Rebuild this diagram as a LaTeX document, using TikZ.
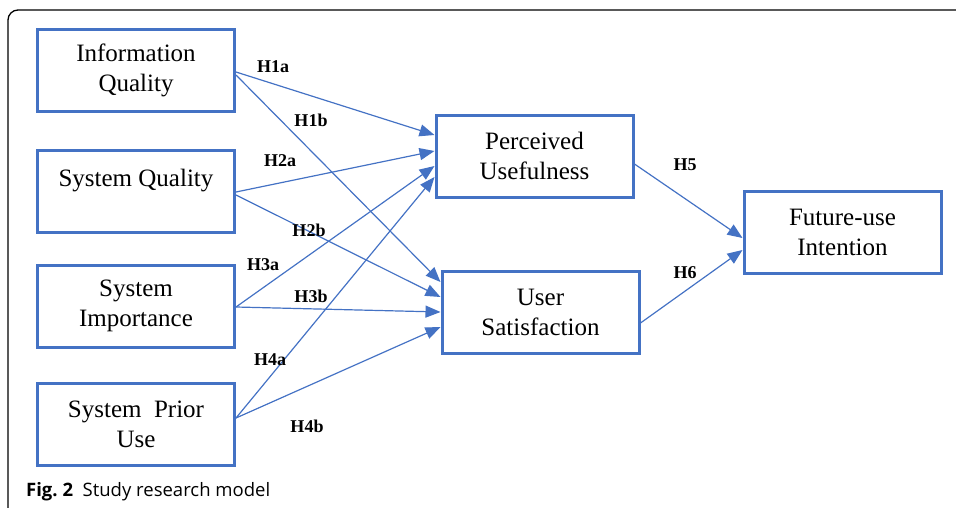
\documentclass[tikz,border=0pt]{standalone}
\usepackage{fontspec}
\setmainfont{Liberation Serif}
\newfontfamily\capfont{Open Sans}
\usetikzlibrary{arrows.meta,%
                positioning}
\definecolor{boxblue}{HTML}{4472C4}

\begin{document}
\begin{tikzpicture}[x = 1pt, y = -1pt]
  \tikzstyle{every node} = [node distance = 120pt,
			    on grid,
			    inner sep = 0pt]
  \tikzstyle{VertexStyle} = [draw = boxblue,
			    line width = 3pt,
			    minimum width = 197pt,
			    minimum height = 82pt,
			    align = center,
			    font = \fontsize{25}{30}\selectfont]
\tikzset{EdgeStyle/.style = {draw = boxblue, line width = 1.2pt,
                             -{Triangle[length = 15pt, width = 12pt]}}}
\tikzstyle{LabelStyle} = [font = \fontsize{18}{20}\selectfont\bfseries]
\useasboundingbox (0,0) rectangle (956,507);
\draw[line width = 1.3pt, rounded corners = 10pt] (8,530) -- (8,10) -- (980,10);

\node[VertexStyle] (IQ) at (136,70) {Information\\Quality};
\node[VertexStyle, below = 121pt of IQ, text depth = 27pt] (SQ) {System Quality};
\node[VertexStyle, below = 115pt of SQ] (SI) {System\\Importance};
\node[VertexStyle, below = 118pt of SI] (SP) {System~ Prior\\Use};
\node[VertexStyle, below right = 86pt and 398.5pt of IQ] (PU) {Perceived\\Usefulness};
\node[VertexStyle, below right = 156pt and 6pt of PU] (US) {User\\Satisfaction};
\node[VertexStyle, below right = 76.5pt and 308pt of PU] (FI) {Future-use\\Intention};

% paths into Perceived Usefulness
\draw[EdgeStyle] ([yshift = -2pt]IQ.east) -- ([yshift = 21pt]PU.west);
\draw[EdgeStyle] ([yshift = -1pt]SQ.east) -- ([yshift = 5pt]PU.west);
\draw[EdgeStyle] ([yshift = -1pt]SI.east) -- ([yshift = -10pt]PU.west);
\draw[EdgeStyle] ([yshift = 6pt]SP.east) -- ([yshift = -21pt]PU.west);
% paths into User Satisfaction
\draw[EdgeStyle] ([yshift = -5pt]IQ.east) -- ([yshift = 30pt]US.west);
\draw[EdgeStyle] ([yshift = -4pt]SQ.east) -- ([yshift = 15pt]US.west);
\draw[EdgeStyle] ([yshift = -1pt]SI.east) -- (US.west);
\draw[EdgeStyle] ([yshift = 6pt]SP.east) -- ([yshift = -15pt]US.west);
% paths into Future-use Intention
\draw[EdgeStyle] ([yshift = -8pt]PU.east) -- ([yshift = -5.5pt]FI.west);
\draw[EdgeStyle] ([yshift = -11pt]US.east) -- ([yshift = -17.5pt]FI.west);

\node[LabelStyle] (H1a) at (273,67) {H1a};
\node[LabelStyle] (H1b) at (311,120) {H1b};
\node[LabelStyle] (H2a) at (280,161) {H2a};
\node[LabelStyle] (H2b) at (309,230) {H2b};
\node[LabelStyle] (H3a) at (263,265) {H3a};
\node[LabelStyle] (H3b) at (311,296) {H3b};
\node[LabelStyle] (H4a) at (270,360) {H4a};
\node[LabelStyle] (H4b) at (307,426) {H4b};
\node[LabelStyle] (H5) at (685,165) {H5};
\node[LabelStyle] (H6) at (685,273) {H6};

\node[anchor = base west, font = \capfont\fontsize{18.5}{22}\selectfont] (Cap) at (26,496)
  {\textbf{Fig.~2}\ \ Study research model};

\end{tikzpicture}
\end{document}
